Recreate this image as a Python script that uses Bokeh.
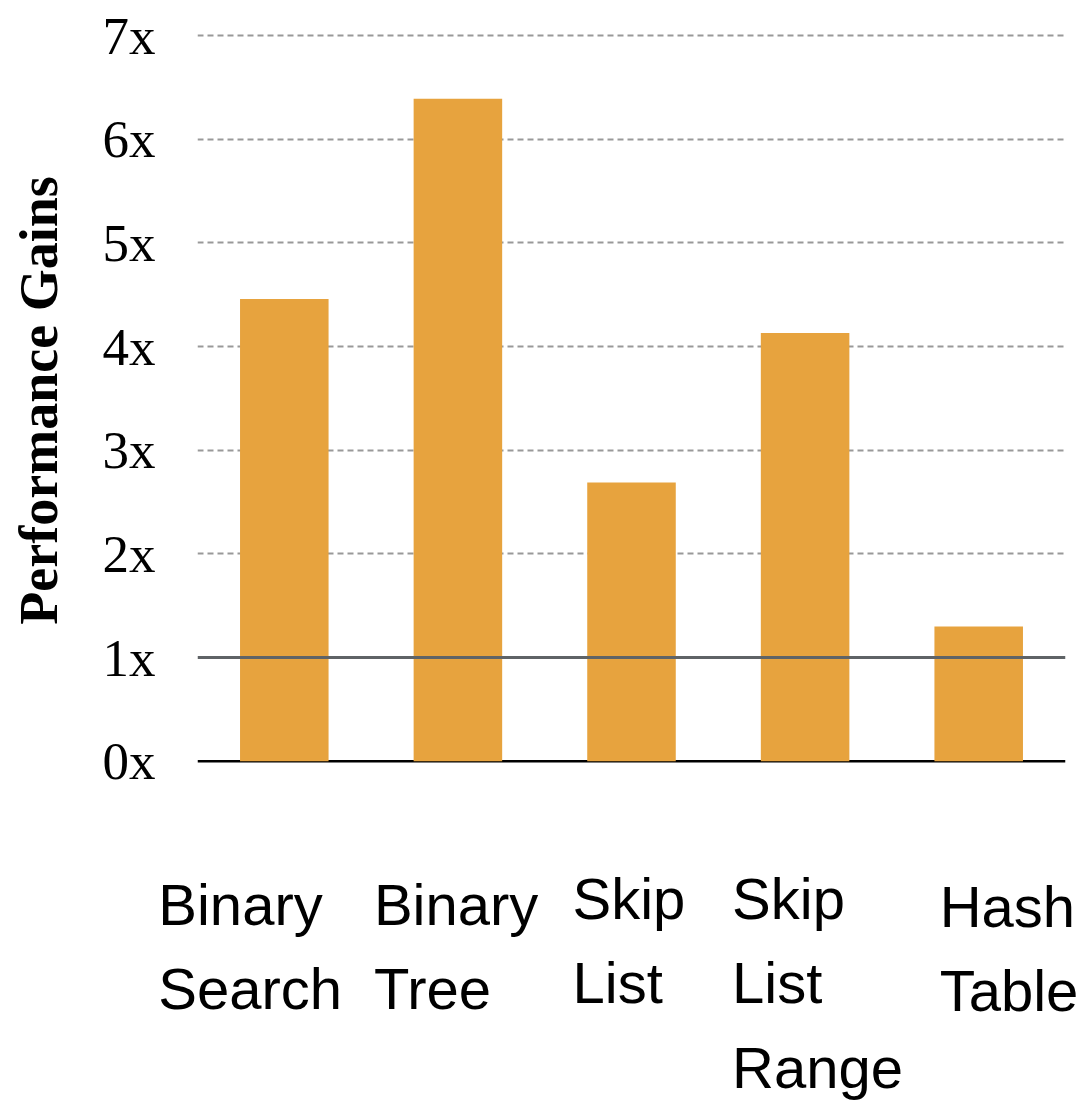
from bokeh.plotting import figure
from bokeh.core.properties import value
from bokeh.models import Range1d, FactorRange, FixedTicker, Span, ColumnDataSource
from bokeh.embed import file_html
from bokeh.resources import INLINE

# Data
categories = ["Binary Search", "Binary Tree", "Skip List", "Skip List Range", "Hash Table"]
category_labels = ["Binary\nSearch", "Binary\nTree", "Skip\nList", "Skip\nList\nRange", "Hash\nTable"]
gains = [4.46, 6.39, 2.69, 4.13, 1.30]
y_ticks = [0, 1, 2, 3, 4, 5, 6, 7]
y_tick_labels = ["0x", "1x", "2x", "3x", "4x", "5x", "6x", "7x"]
baseline_gain = 1

# Placement tweaks (screen pixels) for the hand-wrapped category names
label_dx = [-126, -84, -59, -73, -39]
label_dy = [76, 76, 70, 70, 78]

BAR_COLOR = "#E7A33E"
SERIF = "Liberation Serif"
SANS = "Liberation Sans"

# Layout geometry (pixels)
LEFT, RIGHT = 197, 20
FRAME_W = 868
TOTAL_W = LEFT + FRAME_W + RIGHT
TOTAL_H = 1101
MAIN_TOP = 5
FRAME_H = 790
MAIN_H = MAIN_TOP + FRAME_H

source = ColumnDataSource(dict(cat=categories, gain=gains))

p = figure(
    x_range=FactorRange(*categories),
    y_range=Range1d(-0.33, 7.29),
    frame_width=FRAME_W,
    frame_height=FRAME_H,
    min_border_left=LEFT,
    min_border_right=RIGHT,
    min_border_top=MAIN_TOP,
    min_border_bottom=0,
    x_axis_location=None,
    output_backend="svg",
    toolbar_location=None,
    background_fill_color="white",
    border_fill_color="white",
)
p.outline_line_color = None
p.xgrid.grid_line_color = None

# Dashed guides at 2x..7x
p.ygrid.ticker = FixedTicker(ticks=y_ticks[2:])
p.ygrid.grid_line_color = "#999999"
p.ygrid.grid_line_width = 2
p.ygrid.grid_line_dash = "6 4"

p.vbar(x="cat", top="gain", width=0.51, source=source,
       fill_color=BAR_COLOR, line_color=None)

# Zero baseline and reference line at 1x (no gain)
p.add_layout(Span(location=0, dimension="width", level="underlay",
                  line_color="black", line_width=2.5))
p.add_layout(Span(location=baseline_gain, dimension="width",
                  line_color="#5f6366", line_width=3))

# Y axis
yax = p.yaxis[0]
yax.ticker = FixedTicker(ticks=y_ticks)
yax.major_label_overrides = {t: s for t, s in zip(y_ticks, y_tick_labels)}
yax.axis_line_color = None
yax.major_tick_line_color = None
yax.minor_tick_line_color = None
yax.major_label_text_font = SERIF
yax.major_label_text_font_size = "53px"
yax.major_label_text_color = "black"
yax.major_label_standoff = 36
yax.axis_label = "Performance Gains"
yax.axis_label_text_font = SERIF
yax.axis_label_text_font_style = "bold"
yax.axis_label_text_font_size = "54px"
yax.axis_label_text_color = "black"
yax.axis_label_standoff = 31

# Strip under the chart holding the wrapped category names; its x scale
# continues the bar chart's (one unit per category) across the full width
unit = FRAME_W / len(categories)
names = figure(
    x_range=Range1d(-LEFT / unit, len(categories) + RIGHT / unit),
    y_range=Range1d(-1, 0),
    width=TOTAL_W,
    height=TOTAL_H - MAIN_H,
    min_border=0,
    x_axis_location=None,
    y_axis_location=None,
    output_backend="svg",
    toolbar_location=None,
    background_fill_color="white",
    border_fill_color="white",
)
names.outline_line_color = None
names.grid.grid_line_color = None

label_src = ColumnDataSource(dict(
    x=[i + 0.5 for i in range(len(categories))],
    y=[0] * len(categories),
    text=category_labels, dx=label_dx, dy=label_dy,
))
names.text(
    x="x", y="y", text="text", x_offset="dx", y_offset="dy", source=label_src,
    text_font=value(SANS), text_font_size=value("58px"), text_color="black",
    text_align="left", text_baseline="top", text_line_height=1.3,
)

# Two independent roots stacked in the page, so each keeps its own frame
open("out.html", "w").write(file_html([p, names], INLINE))
